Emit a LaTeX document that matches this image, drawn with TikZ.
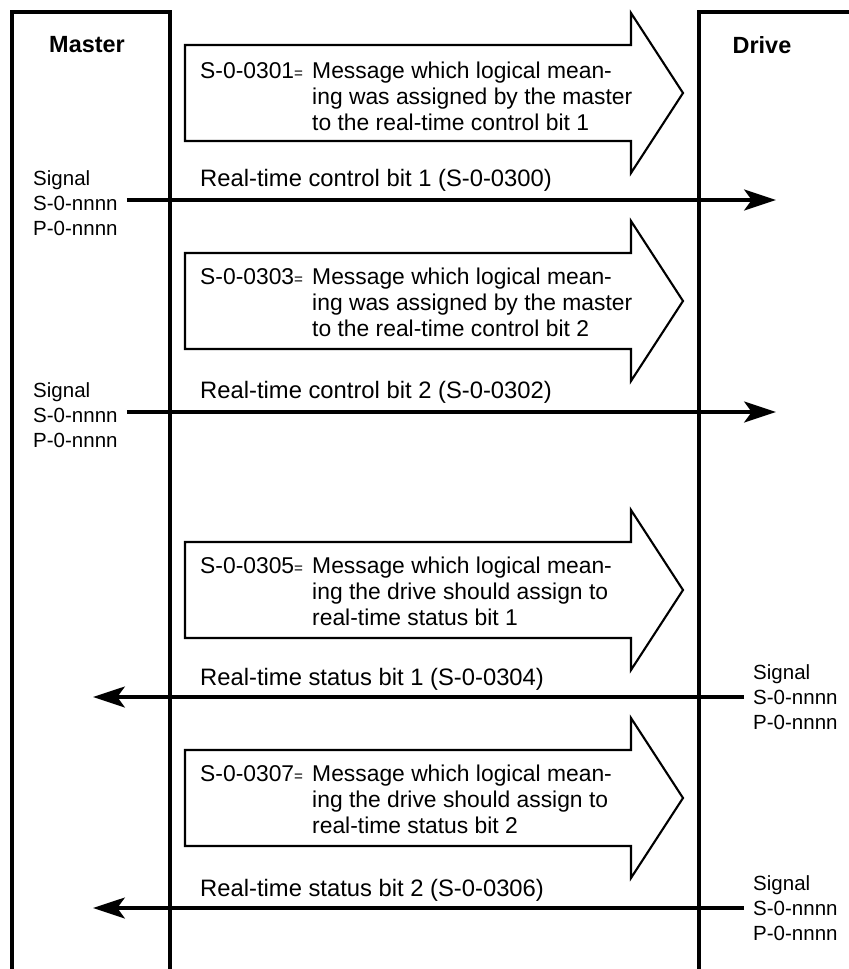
\documentclass[tikz,border=0pt]{standalone}
\usepackage{fontspec}
\setmainfont{Liberation Sans}
\usetikzlibrary{arrows.meta,positioning}

\tikzset{
  wall/.style={line width=3.3pt},
  msgarrow/.style={line width=1.8pt, line join=miter},
  sigline/.style={line width=3.6pt, -{Stealth[length=0.95cm, width=0.62cm, inset=0.22cm]}},
  msgtext/.style={anchor=north west, align=left, inner sep=0pt, font=\fontsize{19.5}{22}\selectfont},
  codetext/.style={anchor=north west, inner sep=0pt, font=\fontsize{19.5}{22}\selectfont},
  linetext/.style={anchor=base west, inner sep=0pt, font=\fontsize{20.3}{24}\selectfont},
  sigtext/.style={anchor=west, align=left, inner xsep=0.27cm, inner ysep=0pt, font=\fontsize{17.5}{21.3}\selectfont},
  title/.style={font=\fontsize{20}{24}\selectfont\bfseries}
}

% outline of a fat arrow, centred on the height #1
\newcommand{\fatarrow}[1]{%
  \draw[msgarrow] (185,#1-48) -- (631,#1-48) -- (631,#1-80) -- (683,#1)
    -- (631,#1+80) -- (631,#1+48) -- (185,#1+48) -- cycle;}
\newcommand{\eqsign}{{\fontsize{13}{15}\selectfont=}}

\begin{document}
\begin{tikzpicture}[x=0.03cm, y=-0.03cm]
  \useasboundingbox (0,0) rectangle (849,969);

  % master and drive columns
  \draw[wall] (12,969) -- (12,12) -- (170,12) -- (170,969);
  \draw[wall] (849,12) -- (699,12) -- (699,969);
  \node[title] (master) at (87,45) {Master};
  \node[title] (drive) at (762,45) {Drive};

  % control bit 1
  \fatarrow{93}
  \node[codetext] (codeA) at (200,62) {S-0-0301\eqsign};
  \node[msgtext] (msgA) at (312,62) {Message which logical mean-\\ing was assigned by the master\\to the real-time control bit 1};
  \node[linetext] (bitA) at (200,186) {Real-time control bit 1 (S-0-0300)};
  \node[sigtext] (sigA) at (24,203) {Signal\\S-0-nnnn\\P-0-nnnn};
  \coordinate (tipA) at (776,200);
  \draw[sigline] (sigA.east |- tipA) -- (tipA);

  % control bit 2
  \fatarrow{301}
  \node[codetext] (codeB) at (200,268) {S-0-0303\eqsign};
  \node[msgtext] (msgB) at (312,268) {Message which logical mean-\\ing was assigned by the master\\to the real-time control bit 2};
  \node[linetext] (bitB) at (200,398) {Real-time control bit 2 (S-0-0302)};
  \node[sigtext] (sigB) at (24,415) {Signal\\S-0-nnnn\\P-0-nnnn};
  \coordinate (tipB) at (776,412);
  \draw[sigline] (sigB.east |- tipB) -- (tipB);

  % status bit 1
  \fatarrow{590}
  \node[codetext] (codeC) at (200,557) {S-0-0305\eqsign};
  \node[msgtext] (msgC) at (312,557) {Message which logical mean-\\ing the drive should assign to\\real-time status bit 1};
  \node[linetext] (bitC) at (200,685) {Real-time status bit 1 (S-0-0304)};
  \node[sigtext] (sigC) at (744,697) {Signal\\S-0-nnnn\\P-0-nnnn};
  \coordinate (tipC) at (93,697);
  \draw[sigline] (sigC.west) -- (tipC);

  % status bit 2
  \fatarrow{798}
  \node[codetext] (codeD) at (200,765) {S-0-0307\eqsign};
  \node[msgtext] (msgD) at (312,765) {Message which logical mean-\\ing the drive should assign to\\real-time status bit 2};
  \node[linetext] (bitD) at (200,896) {Real-time status bit 2 (S-0-0306)};
  \node[sigtext] (sigD) at (744,908) {Signal\\S-0-nnnn\\P-0-nnnn};
  \coordinate (tipD) at (93,908);
  \draw[sigline] (sigD.west) -- (tipD);
\end{tikzpicture}
\end{document}
